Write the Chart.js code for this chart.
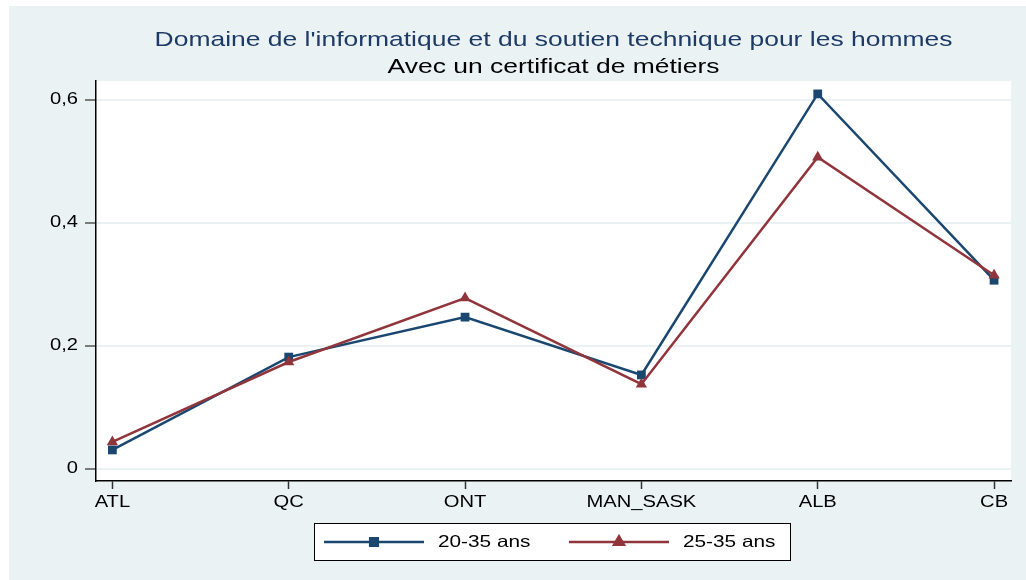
<!DOCTYPE html>
<html>
<head>
<meta charset="utf-8">
<script src="https://cdn.jsdelivr.net/npm/chart.js@4/dist/chart.umd.min.js"></script>
<style>
  html, body { margin: 0; padding: 0; background: #fff; }
  #wrap { width: 1026px; height: 580px; }
</style>
</head>
<body>
<div id="wrap"><canvas id="lineChart"></canvas></div>
<script>
const regions = ['ATL', 'QC', 'ONT', 'MAN_SASK', 'ALB', 'CB'];
const ans2035 = [0.031, 0.182, 0.247, 0.153, 0.610, 0.307];
const ans2535 = [0.044, 0.174, 0.278, 0.138, 0.507, 0.315];
const yTicks = [0, 0.2, 0.4, 0.6];
const titleText = "Domaine de l'informatique et du soutien technique pour les hommes";
const subtitleText = 'Avec un certificat de métiers';

const navy = '#1a476f';
const maroon = '#90353b';
const bgColor = '#eaf2f3';
const font = '"Liberation Sans", Arial, Helvetica, sans-serif';
const stretch = 1.26; // the original picture is widened, text included

const toPoints = arr => arr.map((v, i) => ({ x: i, y: v }));
const yLabel = v => v === 0 ? '0' : v.toFixed(1).replace('.', ',');

function wideText(ctx, text, x, y, align, size, color) {
  ctx.save();
  ctx.translate(x, y);
  ctx.scale(stretch, 1);
  ctx.font = size + 'px ' + font;
  ctx.fillStyle = color;
  ctx.textAlign = align;
  ctx.textBaseline = 'middle';
  ctx.fillText(text, 0, 0);
  ctx.restore();
}

// background, plot area, titles, tick labels and the boxed legend
const stataLook = {
  id: 'stataLook',
  beforeDraw(chart) {
    const { ctx, chartArea: a } = chart;
    ctx.save();
    ctx.fillStyle = '#fff';
    ctx.fillRect(0, 0, chart.width, chart.height);
    ctx.fillStyle = bgColor;
    ctx.fillRect(9, 6, chart.width - 9, chart.height - 6);
    ctx.fillStyle = '#fff';
    ctx.fillRect(a.left, a.top, a.right - a.left, a.bottom - a.top);
    ctx.restore();
  },
  afterDraw(chart) {
    const { ctx, chartArea: a } = chart;
    const xs = chart.scales.x, ys = chart.scales.y;
    const cx = (a.left + a.right) / 2;
    wideText(ctx, titleText, cx, 40, 'center', 21, '#1e3a66');
    wideText(ctx, subtitleText, cx, 67, 'center', 21, '#000');

    yTicks.forEach(v => wideText(ctx, yLabel(v), 78, ys.getPixelForValue(v), 'right', 16, '#000'));
    regions.forEach((r, i) => wideText(ctx, r, xs.getPixelForValue(i), 503, 'center', 16, '#000'));

    // legend box
    ctx.save();
    const bx = 314, by = 523, bw = 476, bh = 37;
    ctx.fillStyle = '#fff';
    ctx.fillRect(bx, by, bw, bh);
    ctx.strokeStyle = '#000';
    ctx.lineWidth = 1;
    ctx.strokeRect(bx + 0.5, by + 0.5, bw, bh);
    const ly = by + bh / 2 + 0.5;
    const starts = [324, 569];
    chart.data.datasets.forEach((ds, i) => {
      const x0 = starts[i];
      ctx.strokeStyle = ds.borderColor;
      ctx.lineWidth = ds.borderWidth;
      ctx.beginPath();
      ctx.moveTo(x0, ly);
      ctx.lineTo(x0 + 100, ly);
      ctx.stroke();
      Chart.helpers.drawPoint(ctx, {
        pointStyle: ds.pointStyle, radius: ds.pointRadius - 0.8, borderWidth: 1
      }, x0 + 50, ly);
      ctx.fillStyle = ds.pointBackgroundColor;
      ctx.strokeStyle = ds.pointBorderColor;
      ctx.fill();
      wideText(ctx, ds.label, x0 + 114, ly, 'left', 16.5, '#000');
    });
    ctx.restore();
  }
};

new Chart(document.getElementById('lineChart'), {
  type: 'line',
  data: {
    datasets: [
      {
        label: '20-35 ans',
        data: toPoints(ans2035),
        borderColor: navy,
        backgroundColor: navy,
        pointBackgroundColor: navy,
        pointBorderColor: navy,
        borderWidth: 2.5,
        pointStyle: 'rect',
        pointRadius: 6.2,
        pointBorderWidth: 0,
        tension: 0,
        order: 2
      },
      {
        label: '25-35 ans',
        data: toPoints(ans2535),
        borderColor: maroon,
        backgroundColor: maroon,
        pointBackgroundColor: maroon,
        pointBorderColor: maroon,
        borderWidth: 2.5,
        pointStyle: 'triangle',
        pointRadius: 6.5,
        pointBorderWidth: 0,
        tension: 0,
        order: 1
      }
    ]
  },
  options: {
    responsive: true,
    maintainAspectRatio: false,
    animation: false,
    layout: { padding: { left: 10, top: 81, right: 15, bottom: 69 } },
    plugins: {
      legend: { display: false },
      tooltip: { enabled: false },
      title: { display: false }
    },
    scales: {
      x: {
        type: 'linear',
        min: -0.093,
        max: 5.096,
        afterBuildTicks: s => { s.ticks = regions.map((r, i) => ({ value: i })); },
        afterFit: s => { s.height = 30; },
        ticks: { display: false },
        grid: {
          drawOnChartArea: false,
          drawTicks: true,
          tickLength: 8,
          tickColor: '#333',
          tickWidth: 1.5
        },
        border: { display: true, color: '#000', width: 1.5 }
      },
      y: {
        min: -0.0195,
        max: 0.631,
        afterBuildTicks: s => { s.ticks = yTicks.map(v => ({ value: v })); },
        afterFit: s => { s.width = 86; },
        ticks: { display: false },
        grid: {
          color: bgColor,
          lineWidth: 2,
          drawTicks: true,
          tickLength: 11,
          tickColor: '#555',
          tickWidth: 1.5
        },
        border: { display: true, color: '#000', width: 1.5 }
      }
    }
  },
  plugins: [stataLook]
});
</script>
</body>
</html>
